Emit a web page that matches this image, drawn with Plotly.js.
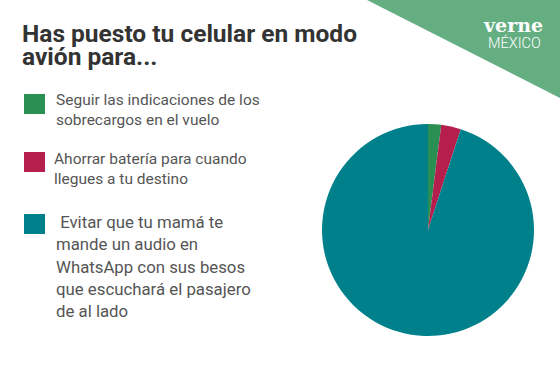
<!DOCTYPE html>
<html><head><meta charset="utf-8">
<script src="https://cdn.plot.ly/plotly-3.0.1.min.js"></script>
<style>html,body{margin:0;padding:0;background:#fff}</style>
</head><body><div id="chart" style="width:560px;height:380px"></div>
<script>
const categories = [
  "Seguir las indicaciones de los\nsobrecargos en el vuelo",
  "Ahorrar batería para cuando\nllegues a tu destino",
  " Evitar que tu mamá te\nmande un audio en\nWhatsApp con sus besos\nque escuchará el pasajero\nde al lado"
];
const values = [2, 3, 95];
const colors = ["#2A8F52", "#B41F4E", "#00808A"];
const titleLines = ["Has puesto tu celular en modo", "avión para..."];
const brandTop = "verne";
const brandBottom = "MÉXICO";

const W = 560, H = 380;
const py = v => 1 - v / H;
const px = v => v / W;

// legend layout (pixels)
const sqTop = [94, 152, 214];
const lineStart = [100, 159, 222];
const lineGap = [20, 20, 22.3];
const fontSz = [15.5, 15.5, 16.8];
const textX = [55, 53, 55];

const annotations = [];
const shapes = [];

titleLines.forEach((t, i) => {
  annotations.push({xref:'paper', yref:'paper', x: px(21), y: py(33 + i*23), xanchor:'left', yanchor:'middle',
    text: '<b>'+t+'</b>', showarrow:false, borderpad:0,
    font:{family:'Roboto, Arial, sans-serif', size:24.5, weight:900, color:'#333333'}});
});

categories.forEach((c, k) => {
  shapes.push({type:'rect', xref:'paper', yref:'paper', x0:px(24), x1:px(45), y0:py(sqTop[k]), y1:py(sqTop[k]+20),
    fillcolor: colors[k], line:{width:0}});
  c.split('\n').forEach((ln, i) => {
    annotations.push({xref:'paper', yref:'paper', x: px(textX[k]), y: py(lineStart[k] + i*lineGap[k]), xanchor:'left', yanchor:'middle',
      text: ln.replace(/^ /,'&nbsp;'), showarrow:false, borderpad:0,
      font:{family:'Roboto, Arial, sans-serif', size:fontSz[k], color:'#555555'}});
  });
});

// brand triangle
shapes.push({type:'path', xref:'paper', yref:'paper',
  path: `M ${px(367)} 1 L 1 1 L 1 ${py(98)} Z`, fillcolor:'#64AE82', line:{width:0}});
annotations.push({xref:'paper', yref:'paper', x: px(513), y: py(24.5), xanchor:'center', yanchor:'middle',
  text:'<b>'+brandTop+'</b>', showarrow:false, borderpad:0, font:{family:'"DejaVu Serif", serif', size:19, color:'#ffffff'}});
annotations.push({xref:'paper', yref:'paper', x: px(514), y: py(43.5), xanchor:'center', yanchor:'middle',
  text: brandBottom, showarrow:false, borderpad:0, font:{family:'Roboto, Arial, sans-serif', size:14.5, weight:300, color:'#ffffff'}});

const trace = {
  type:'pie', values: values, labels: categories.map(c => c.replace(/\n/g,' ')),
  marker:{colors: colors, line:{width:0}},
  sort:false, direction:'clockwise', rotation:0,
  textinfo:'none', hoverinfo:'label+percent', showlegend:false,
  domain:{x:[px(322), px(534)], y:[py(336), py(124)]}
};

Plotly.newPlot('chart', [trace], {
  width:W, height:H, margin:{l:0,r:0,t:0,b:0},
  paper_bgcolor:'#ffffff', plot_bgcolor:'#ffffff',
  showlegend:false, annotations: annotations, shapes: shapes
}, {displayModeBar:false, staticPlot:true});
</script></body></html>
